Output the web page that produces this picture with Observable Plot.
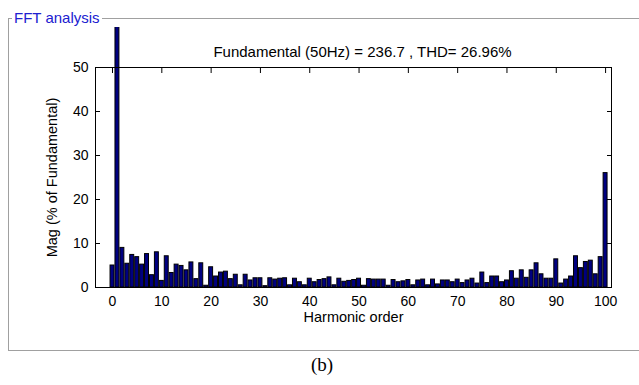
<!DOCTYPE html>
<html><head><meta charset="utf-8">
<script src="https://cdn.jsdelivr.net/npm/d3@7"></script>
<script src="https://cdn.jsdelivr.net/npm/@observablehq/plot@0.6"></script>
<style>
html,body{margin:0;padding:0;background:#fff}
body{width:639px;height:385px;position:relative;overflow:hidden;font-family:"Liberation Sans",Arial,sans-serif}
#box{position:absolute;left:8px;top:18px;width:700px;height:331px;border:1px solid #a0a0a0;border-right:none}
#boxlabel{position:absolute;left:12px;top:10px;background:#fff;color:#2020d0;font-size:15px;padding:0 2px;line-height:16px}
#chart{position:absolute;left:0;top:27px}
#cap{position:absolute;top:354px;left:0;width:644px;text-align:center;font-family:"Liberation Serif","Times New Roman",serif;font-size:19px}
</style>
</head><body>
<div id="box"></div>
<div id="boxlabel">FFT analysis</div>
<div id="chart"></div>
<div id="cap">(b)</div>
<script>
const harmonics = d3.range(0, 101);
const magnitudes = [
  5.0, 100, 9.0, 5.4, 7.4, 6.9, 5.2, 7.6, 2.8, 8.0,
  1.5, 7.1, 3.3, 5.2, 4.9, 3.9, 5.7, 1.9, 5.5, 0.4,
  4.6, 2.5, 3.4, 3.6, 1.9, 2.9, 0.5, 2.9, 1.6, 2.1,
  2.1, 0.3, 2.1, 1.8, 2.0, 2.1, 0.5, 2.0, 1.2, 0.5,
  2.0, 1.2, 1.7, 1.9, 2.3, 0.5, 2.0, 1.3, 1.5, 1.7,
  2.0, 0.4, 1.9, 1.8, 1.8, 1.8, 0.4, 1.7, 1.2, 1.4,
  1.7, 0.5, 1.6, 1.8, 0.5, 1.8, 0.7, 1.6, 1.6, 1.2,
  1.8, 1.0, 1.6, 2.0, 0.9, 3.4, 1.0, 2.5, 2.5, 1.2,
  1.6, 3.7, 2.0, 3.9, 2.2, 3.9, 5.5, 3.0, 2.0, 2.0,
  6.4, 0.9, 1.8, 2.5, 7.1, 4.4, 5.8, 6.1, 3.0, 6.9,
  26.0
];
const xTicks = [0, 10, 20, 30, 40, 50, 60, 70, 80, 90, 100];
const yTicks = [0, 10, 20, 30, 40, 50];
const titleText = "Fundamental (50Hz) = 236.7 , THD= 26.96%";
const xLabel = "Harmonic order";
const yLabel = "Mag (% of Fundamental)";

const data = harmonics.map((h, i) => ({h, m: magnitudes[i]}));
const barHalf = 0.4;
const blank = () => "";

const chart = Plot.plot({
  width: 639,
  height: 310,
  marginLeft: 95,
  marginRight: 28,
  marginTop: 40,
  marginBottom: 50,
  x: {domain: [-3.45, 101.2]},
  y: {domain: [0, 50]},
  style: {fontFamily: "'Liberation Sans', Arial, sans-serif", fontSize: "14px", color: "black", background: "transparent", overflow: "hidden"},
  marks: [
    Plot.axisX(xTicks, {anchor: "bottom", tickSize: -5, tickFormat: blank, label: null}),
    Plot.axisX(xTicks, {anchor: "top", tickSize: -5, tickFormat: blank, label: null}),
    Plot.axisY(yTicks, {anchor: "left", tickSize: -5, tickFormat: blank, label: null}),
    Plot.axisY(yTicks, {anchor: "right", tickSize: -5, tickFormat: blank, label: null}),
    Plot.rectY(data, {x1: d => d.h - barHalf, x2: d => d.h + barHalf, y1: 0, y2: "m", fill: "#000080", stroke: "black", strokeWidth: 1}),
    Plot.frame({stroke: "black"}),
    Plot.axisX(xTicks, {anchor: "bottom", tickSize: 0, tickPadding: 9, label: null}),
    Plot.axisY(yTicks, {anchor: "left", tickSize: 0, tickPadding: 7, label: null}),
    Plot.text([xLabel], {frameAnchor: "bottom", dy: 34, fontSize: 14.5}),
    Plot.text([yLabel], {frameAnchor: "left", rotate: -90, dx: -43, textAnchor: "middle", fontSize: 14.5}),
    Plot.text([titleText], {frameAnchor: "top", dy: -21, dx: 9, fontSize: 15})
  ]
});
document.getElementById("chart").appendChild(chart);
</script>
</body></html>
